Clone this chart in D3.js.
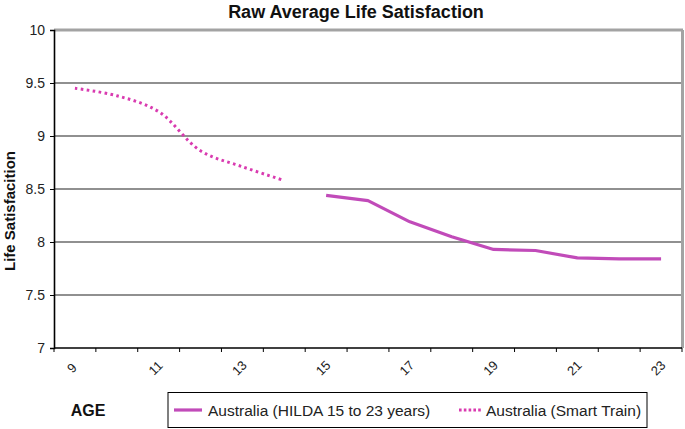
<!DOCTYPE html>
<html><head><meta charset="utf-8">
<script src="https://cdn.jsdelivr.net/npm/d3@7"></script>
<style>
body{margin:0;background:#fff;}
svg{display:block;font-family:"Liberation Sans",Arial,sans-serif;}
</style></head>
<body><svg id="c" width="685" height="429"></svg>
<script>
const ages = [9,10,11,12,13,14,15,16,17,18,19,20,21,22,23];
const tickLabels = [9,11,13,15,17,19,21,23];
const yTicks = [7,7.5,8,8.5,9,9.5,10];
const smartAges = [9,10,11,12,13,14];
const smartValues = [9.45,9.38,9.23,8.86,8.71,8.58];
const hildaAges = [15,16,17,18,19,20,21,22,23];
const hildaValues = [8.44,8.39,8.19,8.05,7.93,7.92,7.85,7.84,7.84];
const seriesNames = ["Australia (HILDA 15 to 23 years)","Australia (Smart Train)"];

const svg = d3.select("#c");
const L=54, R=682, T=30, B=348;
const x = d3.scaleBand().domain(ages).range([L,R]);
const y = d3.scaleLinear().domain([7,10]).range([B,T]);

// gridlines
svg.append("g").selectAll("line").data(yTicks.filter(d=>d>7&&d<10)).join("line")
  .attr("x1",L).attr("x2",R).attr("y1",d=>y(d)).attr("y2",d=>y(d))
  .attr("stroke","#6b6b6b").attr("stroke-width",1.6);
// top & right border
svg.append("line").attr("x1",L).attr("x2",R+1).attr("y1",T).attr("y2",T).attr("stroke","#a3a3a3").attr("stroke-width",3);
svg.append("line").attr("x1",R+0.5).attr("x2",R+0.5).attr("y1",T).attr("y2",B).attr("stroke","#a3a3a3").attr("stroke-width",3);

// y axis
const ya = svg.append("g").attr("transform",`translate(${L},0)`)
  .call(d3.axisLeft(y).tickValues(yTicks).tickSize(4).tickPadding(5).tickFormat(d=>d));
ya.select(".domain").attr("stroke","#000").attr("stroke-width",1.6);
ya.selectAll(".tick line").attr("stroke","#000");
ya.selectAll("text").attr("font-size",14).attr("fill","#222").attr("font-family","Liberation Sans, Arial, sans-serif");

// x axis with tick marks at band boundaries
const xa = svg.append("g").attr("transform",`translate(0,${B})`);
xa.append("line").attr("x1",L).attr("x2",R).attr("stroke","#000").attr("stroke-width",1.6);
const bounds = ages.map(a=>x(a)).concat([x(ages[ages.length-1])+x.bandwidth()]);
xa.selectAll("line.t").data(bounds).join("line").attr("class","t")
  .attr("x1",d=>d).attr("x2",d=>d).attr("y1",0).attr("y2",4).attr("stroke","#000");
xa.selectAll("text").data(tickLabels).join("text")
  .attr("transform",d=>`translate(${x(d)+x.bandwidth()/2-3},${20}) rotate(-45)`)
  .attr("text-anchor","middle").attr("dy","0.35em")
  .attr("font-size",13).attr("fill","#222").text(d=>d);

// lines
const cx = d=>x(d)+x.bandwidth()/2;
const hLine = d3.line().x((d,i)=>cx(hildaAges[i])).y(d=>y(d));
svg.append("path").datum(hildaValues).attr("d",hLine)
  .attr("fill","none").attr("stroke","#c14bb9").attr("stroke-width",3.2).attr("stroke-linejoin","round");
const sLine = d3.line().x((d,i)=>cx(smartAges[i])).y(d=>y(d)).curve(d3.curveCatmullRom.alpha(0.5));
svg.append("path").datum(smartValues).attr("d",sLine)
  .attr("fill","none").attr("stroke","#d93bb0").attr("stroke-width",3).attr("stroke-dasharray","2.6,3.4");

// title
svg.append("text").attr("x",356).attr("y",18).attr("text-anchor","middle")
  .attr("font-size",18).attr("font-weight","bold").attr("fill","#111").text("Raw Average Life Satisfaction");
// y label
svg.append("text").attr("transform","translate(15,211) rotate(-90)").attr("text-anchor","middle")
  .attr("font-size",15).attr("font-weight","bold").attr("fill","#111").text("Life Satisfacition");
// x label
svg.append("text").attr("x",88).attr("y",416).attr("text-anchor","middle")
  .attr("font-size",16).attr("font-weight","bold").attr("fill","#111").text("AGE");

// legend
const lg = svg.append("g");
lg.append("rect").attr("x",168).attr("y",392.5).attr("width",479).attr("height",35)
  .attr("fill","#fff").attr("stroke","#000").attr("stroke-width",1);
lg.append("line").attr("x1",174).attr("x2",202).attr("y1",410).attr("y2",410)
  .attr("stroke","#c14bb9").attr("stroke-width",3.2);
lg.append("text").attr("x",208).attr("y",415.5).attr("font-size",15.5).attr("fill","#222").text(seriesNames[0]);
lg.append("line").attr("x1",459).attr("x2",482).attr("y1",410).attr("y2",410)
  .attr("stroke","#d93bb0").attr("stroke-width",3).attr("stroke-dasharray","2.6,2.2");
lg.append("text").attr("x",486).attr("y",415.5).attr("font-size",15.5).attr("fill","#222").text(seriesNames[1]);
</script></body></html>
